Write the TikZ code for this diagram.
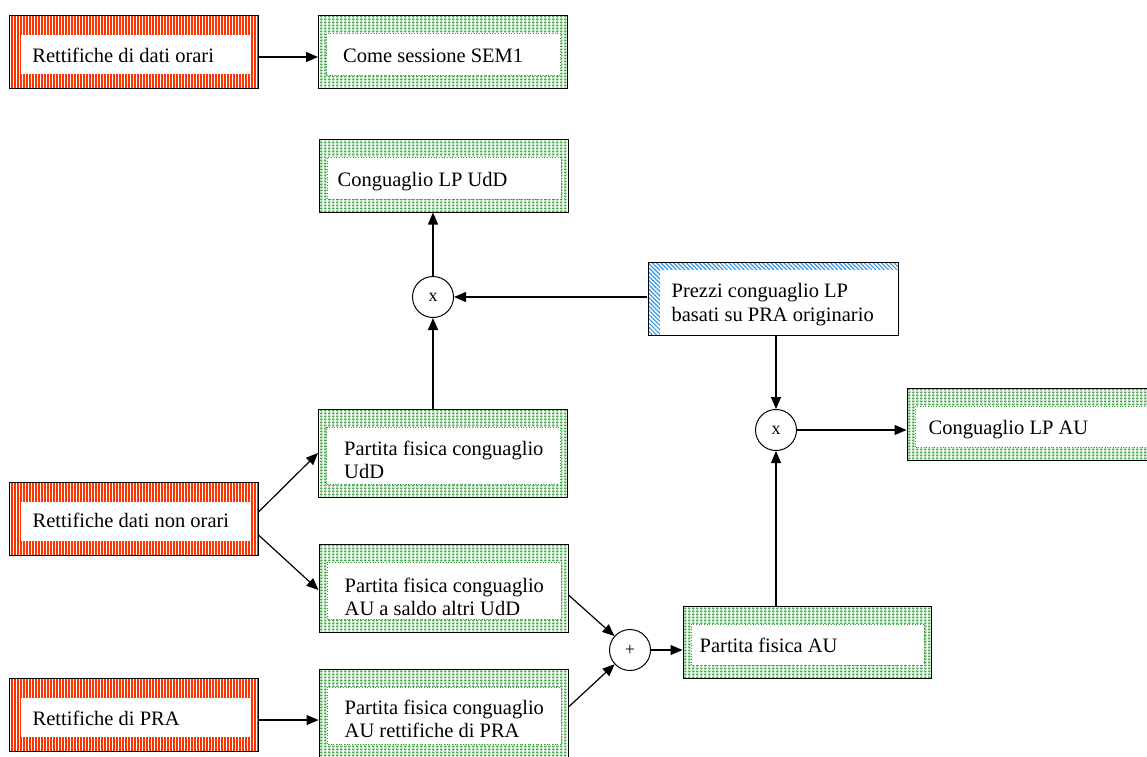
\documentclass[tikz,border=0pt]{standalone}
\usepackage{fontspec}
\setmainfont{Liberation Serif}
\usetikzlibrary{arrows.meta,patterns,patterns.meta}

\definecolor{stripered}{HTML}{FF3300}
\definecolor{brickgreen}{HTML}{2EA033}
\definecolor{stripeblue}{HTML}{2E98F0}

% small green brick texture used in the result boxes
\pgfdeclarepattern{
  name=greenbrick,
  type=uncolored,
  bottom left={\pgfpoint{0pt}{0pt}},
  top right={\pgfpoint{4pt}{3pt}},
  tile size={\pgfpoint{4pt}{3pt}},
  code={
    \pgfsetlinewidth{1.15pt}
    \pgfpathmoveto{\pgfpoint{0pt}{2.5pt}}\pgfpathlineto{\pgfpoint{3.2pt}{2.5pt}}
    \pgfpathmoveto{\pgfpoint{1.5pt}{2.5pt}}\pgfpathlineto{\pgfpoint{1.5pt}{0.5pt}}
    \pgfusepath{stroke}
  }
}

\begin{document}
\begin{tikzpicture}[x=1pt,y=-1pt,
  box/.style={rectangle, draw=black, line width=1pt, inner sep=0pt,
    minimum width=249pt, minimum height=73pt},
  redbox/.style={box, pattern={Lines[angle=90,distance=3pt,line width=1.7pt]},
    pattern color=stripered,
    path picture={\fill[white]
      ([xshift=12pt,yshift=14pt]path picture bounding box.south west) rectangle
      ([xshift=-8pt,yshift=-20pt]path picture bounding box.north east);}},
  greenbox/.style={box, pattern=greenbrick, pattern color=brickgreen,
    path picture={\draw[brickgreen, dotted, line width=0.7pt, fill=white]
      ([xshift=8pt,yshift=13pt]path picture bounding box.south west) rectangle
      ([xshift=-7pt,yshift=-18pt]path picture bounding box.north east);}},
  tallbox/.style={greenbox, minimum height=88pt},
  bluebox/.style={box, pattern={Lines[angle=-45,distance=3pt,line width=1.2pt]},
    pattern color=stripeblue,
    path picture={\fill[white]
      ([xshift=12pt]path picture bounding box.south west) rectangle
      ([yshift=-8pt]path picture bounding box.north east);}},
  op/.style={circle, draw=black, line width=1pt, fill=white, minimum size=41pt,
    inner sep=0pt, font=\fontsize{18}{18}\selectfont},
  lbl/.style={inner sep=0pt, anchor=base west, font=\fontsize{20.5}{23}\selectfont},
  arr/.style={line width=1.2pt, -{Triangle[length=12pt,width=10pt]}}
]
\clip (0,0) rectangle (1147,756);
\fill[white] (0,0) rectangle (1147,756);

% input corrections (red)
\node[redbox] (r1) at (133.5,51.5) {};
\node[redbox] (r2) at (133.5,518.5) {};
\node[redbox] (r3) at (133.5,714.5) {};

% results and intermediate quantities (green)
\node[greenbox] (g1) at (443,51.5) {};
\node[greenbox] (g2) at (443.5,175.5) {};
\node[tallbox] (g3) at (443,453) {};
\node[tallbox] (g5) at (443.5,588) {};
\node[tallbox] (g7) at (443.5,713) {};
\node[greenbox, minimum width=248pt, minimum height=72pt] (g6) at (807,642) {};
\node[greenbox, minimum width=250pt, minimum height=72pt] (g4) at (1032,424) {};

% prices (blue)
\node[bluebox, minimum width=250pt] (bl) at (773,298.5) {};

% operators
\node[op] (cx1) at (433,297) {x};
\node[op] (cx2) at (776,430) {x};
\node[op] (cp) at (630,650) {+};

% labels
\node[lbl] (r1t) at ([xshift=24pt,yshift=-48pt]r1.north west) {Rettifiche di dati orari};
\node[lbl] (r2t) at ([xshift=24pt,yshift=-46pt]r2.north west) {Rettifiche dati non orari};
\node[lbl] (r3t) at ([xshift=24pt,yshift=-48pt]r3.north west) {Rettifiche di PRA};
\node[lbl] (g1t) at ([xshift=25pt,yshift=-48pt]g1.north west) {Come sessione SEM1};
\node[lbl] (g2t) at ([xshift=19pt,yshift=-48pt]g2.north west) {Conguaglio LP UdD};
\node[lbl] (g3a) at ([xshift=26pt,yshift=-47pt]g3.north west) {Partita fisica conguaglio};
\node[lbl] (g3b) at ([xshift=26pt,yshift=-70pt]g3.north west) {UdD};
\node[lbl] (g5a) at ([xshift=26pt,yshift=-49pt]g5.north west) {Partita fisica conguaglio};
\node[lbl] (g5b) at ([xshift=26pt,yshift=-72pt]g5.north west) {AU a saldo altri UdD};
\node[lbl] (g7a) at ([xshift=26pt,yshift=-46pt]g7.north west) {Partita fisica conguaglio};
\node[lbl] (g7b) at ([xshift=26pt,yshift=-69pt]g7.north west) {AU rettifiche di PRA};
\node[lbl] (g6t) at ([xshift=17pt,yshift=-47pt]g6.north west) {Partita fisica AU};
\node[lbl] (g4t) at ([xshift=22pt,yshift=-47pt]g4.north west) {Conguaglio LP AU};
\node[lbl] (bla) at ([xshift=24pt,yshift=-36pt]bl.north west) {Prezzi conguaglio LP};
\node[lbl] (blb) at ([xshift=24pt,yshift=-60pt]bl.north west) {basati su PRA originario};

% connectors
\draw[arr] ([yshift=-5.5pt]r1.east) -- ([yshift=-5.5pt]g1.west);
\draw[arr] ([yshift=6.5pt]r2.east) -- (g3.west);
\draw[arr] ([yshift=-16.5pt]r2.east) -- ([yshift=-2pt]g5.west);
\draw[arr] ([yshift=-5.5pt]r3.east) -- ([yshift=-5.5pt]r3.east -| g7.west);
\draw[arr] (cx1 |- g3.north) -- (cx1.south);
\draw[arr] (cx1.north) -- (cx1 |- g2.south);
\draw[arr] (bl.west |- cx1) -- (cx1.east);
\draw[arr] (cx2 |- bl.south) -- (cx2.north);
\draw[arr] (cx2 |- g6.north) -- (cx2.south);
\draw[arr] (cx2.east) -- (cx2 -| g4.west);
\draw[arr] ([yshift=-7pt]g5.east) -- (cp);
\draw[arr] ([yshift=6pt]g7.east) -- (cp);
\draw[arr] (cp.east) -- (cp -| g6.west);
\end{tikzpicture}
\end{document}
